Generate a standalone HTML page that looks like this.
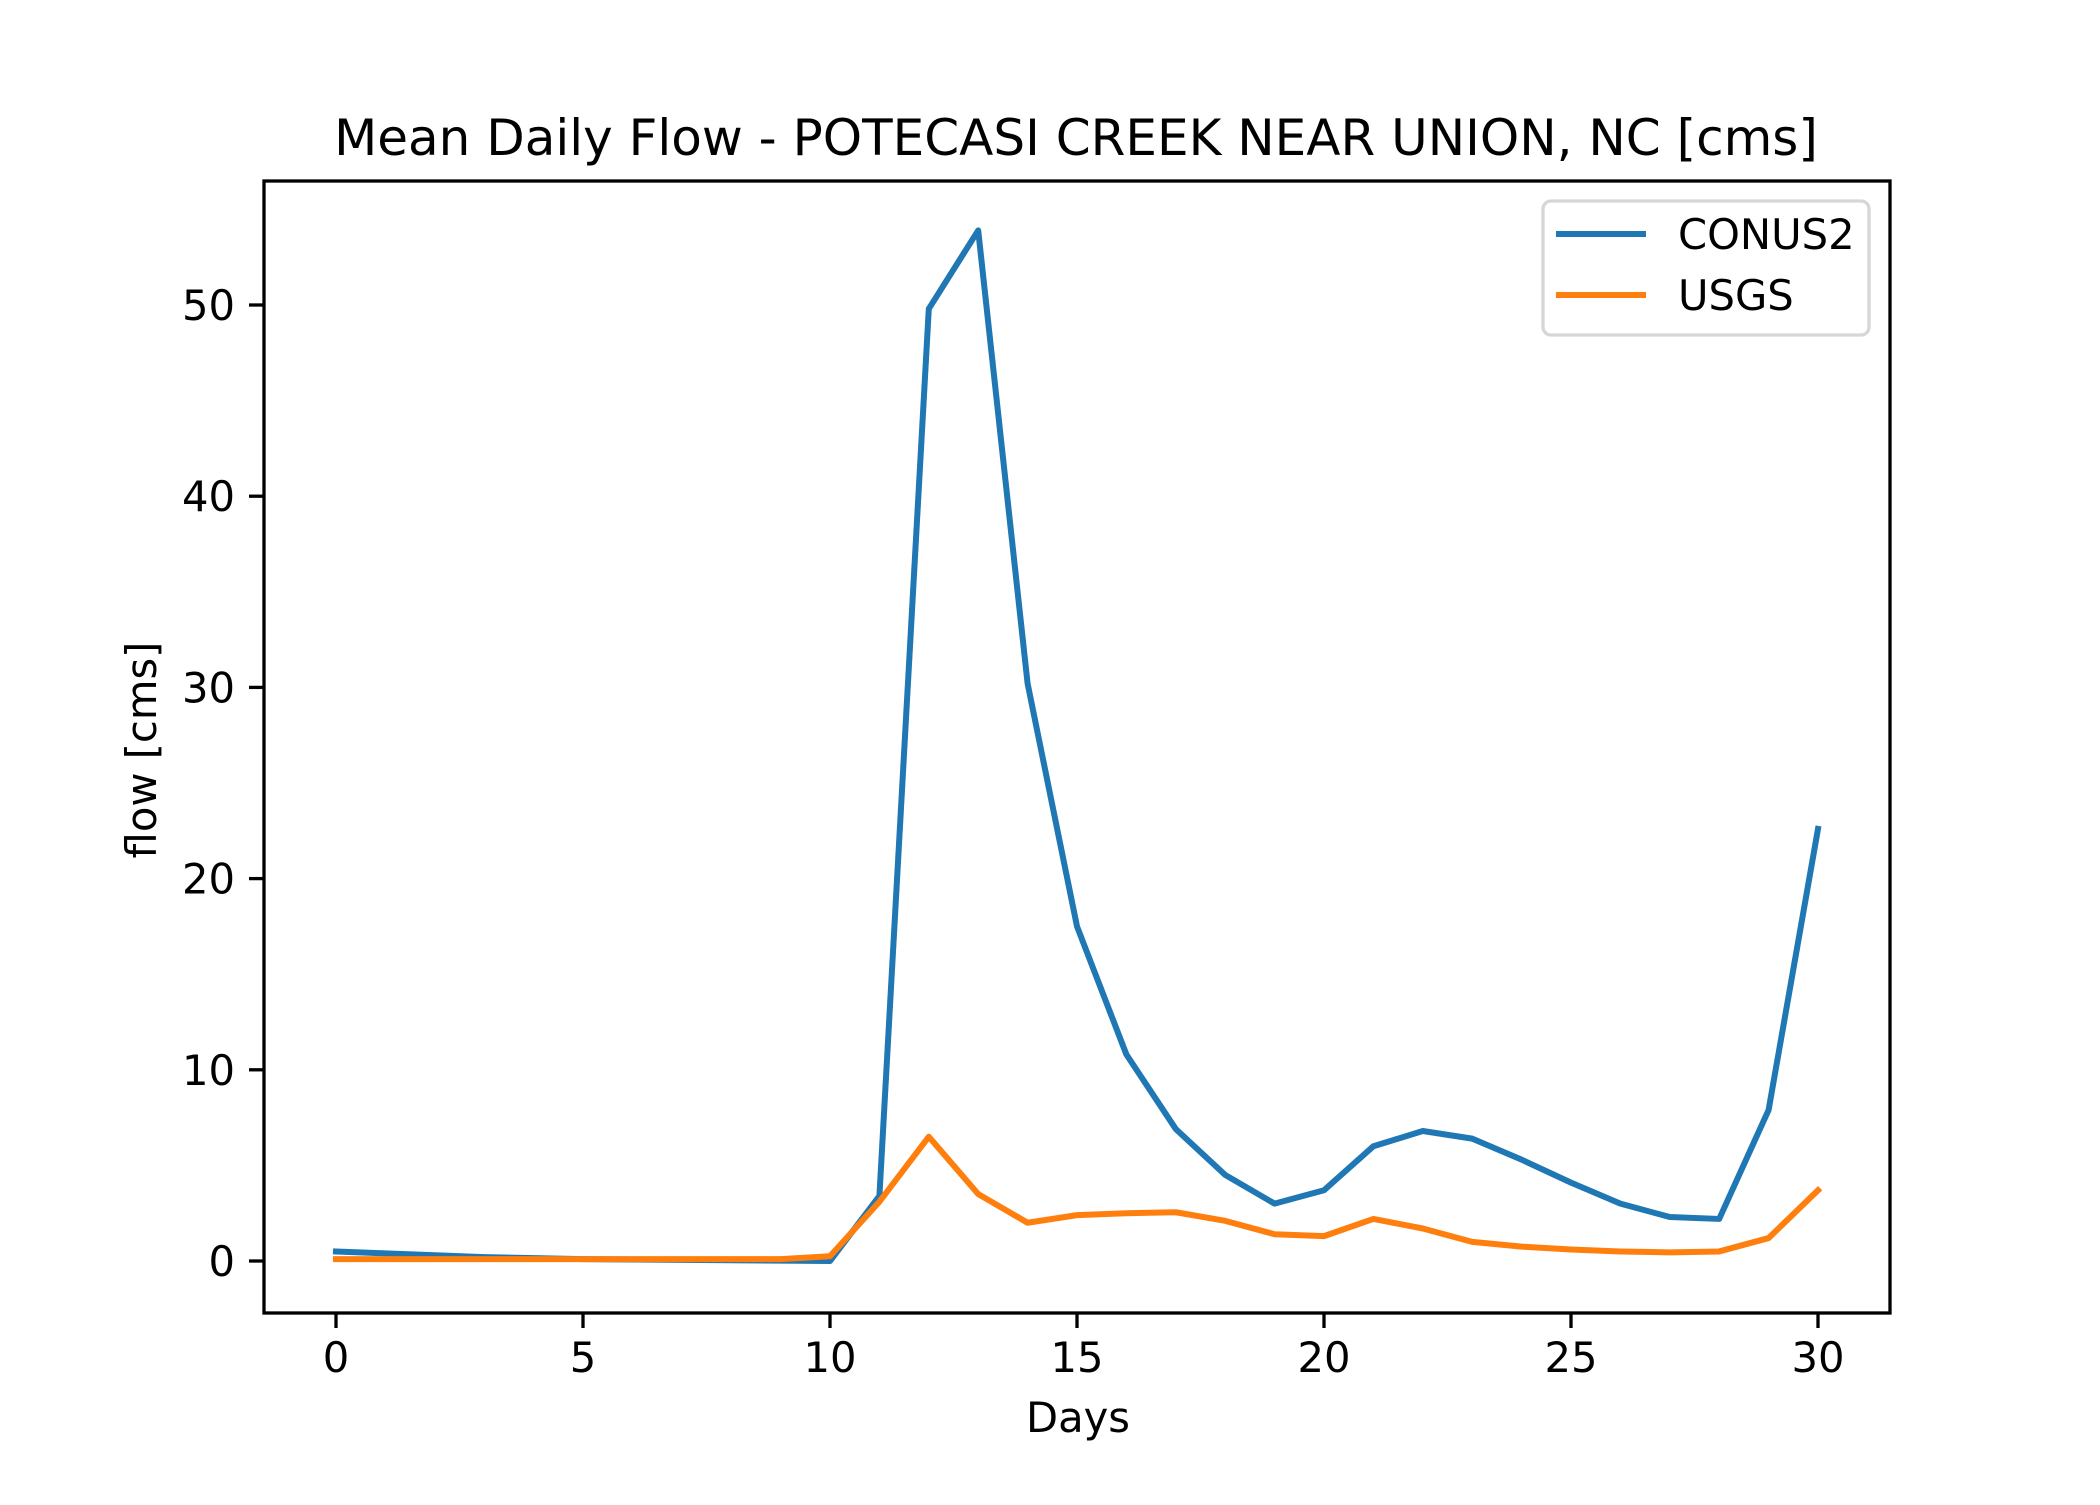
<!DOCTYPE html>
<html><head><meta charset="utf-8"><style>
body{margin:0;background:#fff}
svg text{font-family:"DejaVu Sans","Liberation Sans",sans-serif;fill:#000}
</style></head><body>
<svg id="chart" width="2100" height="1500" xmlns="http://www.w3.org/2000/svg">
<rect width="2100" height="1500" fill="#fff"/>
<text x="1076" y="155" font-size="50" text-anchor="middle">Mean Daily Flow - POTECASI CREEK NEAR UNION, NC [cms]</text>
<g id="plot"></g>
<rect x="264" y="181" width="1626" height="1132" fill="none" stroke="#000" stroke-width="3.3"/>
<text x="1078" y="1432" font-size="41.7" text-anchor="middle">Days</text>
<text transform="translate(156,750) rotate(-90)" font-size="41.7" text-anchor="middle">flow [cms]</text>
<g>
<rect x="1543" y="201" width="326" height="134" rx="8" fill="#fff" fill-opacity="0.8" stroke="#d6d6d6" stroke-width="3.3"/>
<line x1="1556" y1="234" x2="1646" y2="234" stroke="#1f77b4" stroke-width="6"/>
<text x="1678" y="249" font-size="41.7">CONUS2</text>
<line x1="1556" y1="295" x2="1646" y2="295" stroke="#ff7f0e" stroke-width="6"/>
<text x="1678" y="310" font-size="41.7">USGS</text>
</g>
</svg>
<script>
const days=[0,1,2,3,4,5,6,7,8,9,10,11,12,13,14,15,16,17,18,19,20,21,22,23,24,25,26,27,28,29,30];
const conus2=[0.5,0.4,0.3,0.2,0.15,0.1,0.08,0.06,0.04,0.02,0.0,3.4,49.8,53.9,30.2,17.5,10.8,6.9,4.5,3.0,3.7,6.0,6.8,6.4,5.3,4.1,3.0,2.3,2.2,7.9,22.6];
const usgs=[0.1,0.1,0.1,0.1,0.1,0.1,0.1,0.1,0.1,0.1,0.25,3.1,6.5,3.5,2.0,2.4,2.5,2.55,2.1,1.4,1.3,2.2,1.7,1.0,0.75,0.6,0.5,0.45,0.5,1.2,3.7];
const xTicks=[0,5,10,15,20,25,30];
const yTicks=[0,10,20,30,40,50];
const NS="http://www.w3.org/2000/svg";
const X=v=>336+v*49.4;
const Y=v=>1261-v*19.12;
const plot=document.getElementById('plot');
function mk(t,a){const e=document.createElementNS(NS,t);for(const k in a)e.setAttribute(k,a[k]);return e;}
xTicks.forEach(t=>{
  const l=mk('line',{x1:X(t),x2:X(t),y1:1313,y2:1328,stroke:'#000','stroke-width':3.3});
  
  
  plot.appendChild(l);
  const tx=mk('text',{x:X(t),y:1372,'font-size':41.7,'text-anchor':'middle'});
  
  
  tx.textContent=t;plot.appendChild(tx);
});
yTicks.forEach(t=>{
  const l=mk('line',{x1:249,x2:264,y1:Y(t),y2:Y(t),stroke:'#000','stroke-width':3.3});
  
  
  plot.appendChild(l);
  const tx=mk('text',{x:235,y:Y(t)+15,'font-size':41.7,'text-anchor':'end'});
  
  
  tx.textContent=t;plot.appendChild(tx);
});
function series(vals,color,name){
  const p=mk('polyline',{points:vals.map((v,i)=>X(days[i])+','+Y(v)).join(' '),fill:'none',stroke:color,'stroke-width':6,'stroke-linejoin':'round','stroke-linecap':'square'});
  
  
  plot.appendChild(p);
}
series(conus2,'#1f77b4','conus2-line');
series(usgs,'#ff7f0e','usgs-line');
</script>
</body></html>
